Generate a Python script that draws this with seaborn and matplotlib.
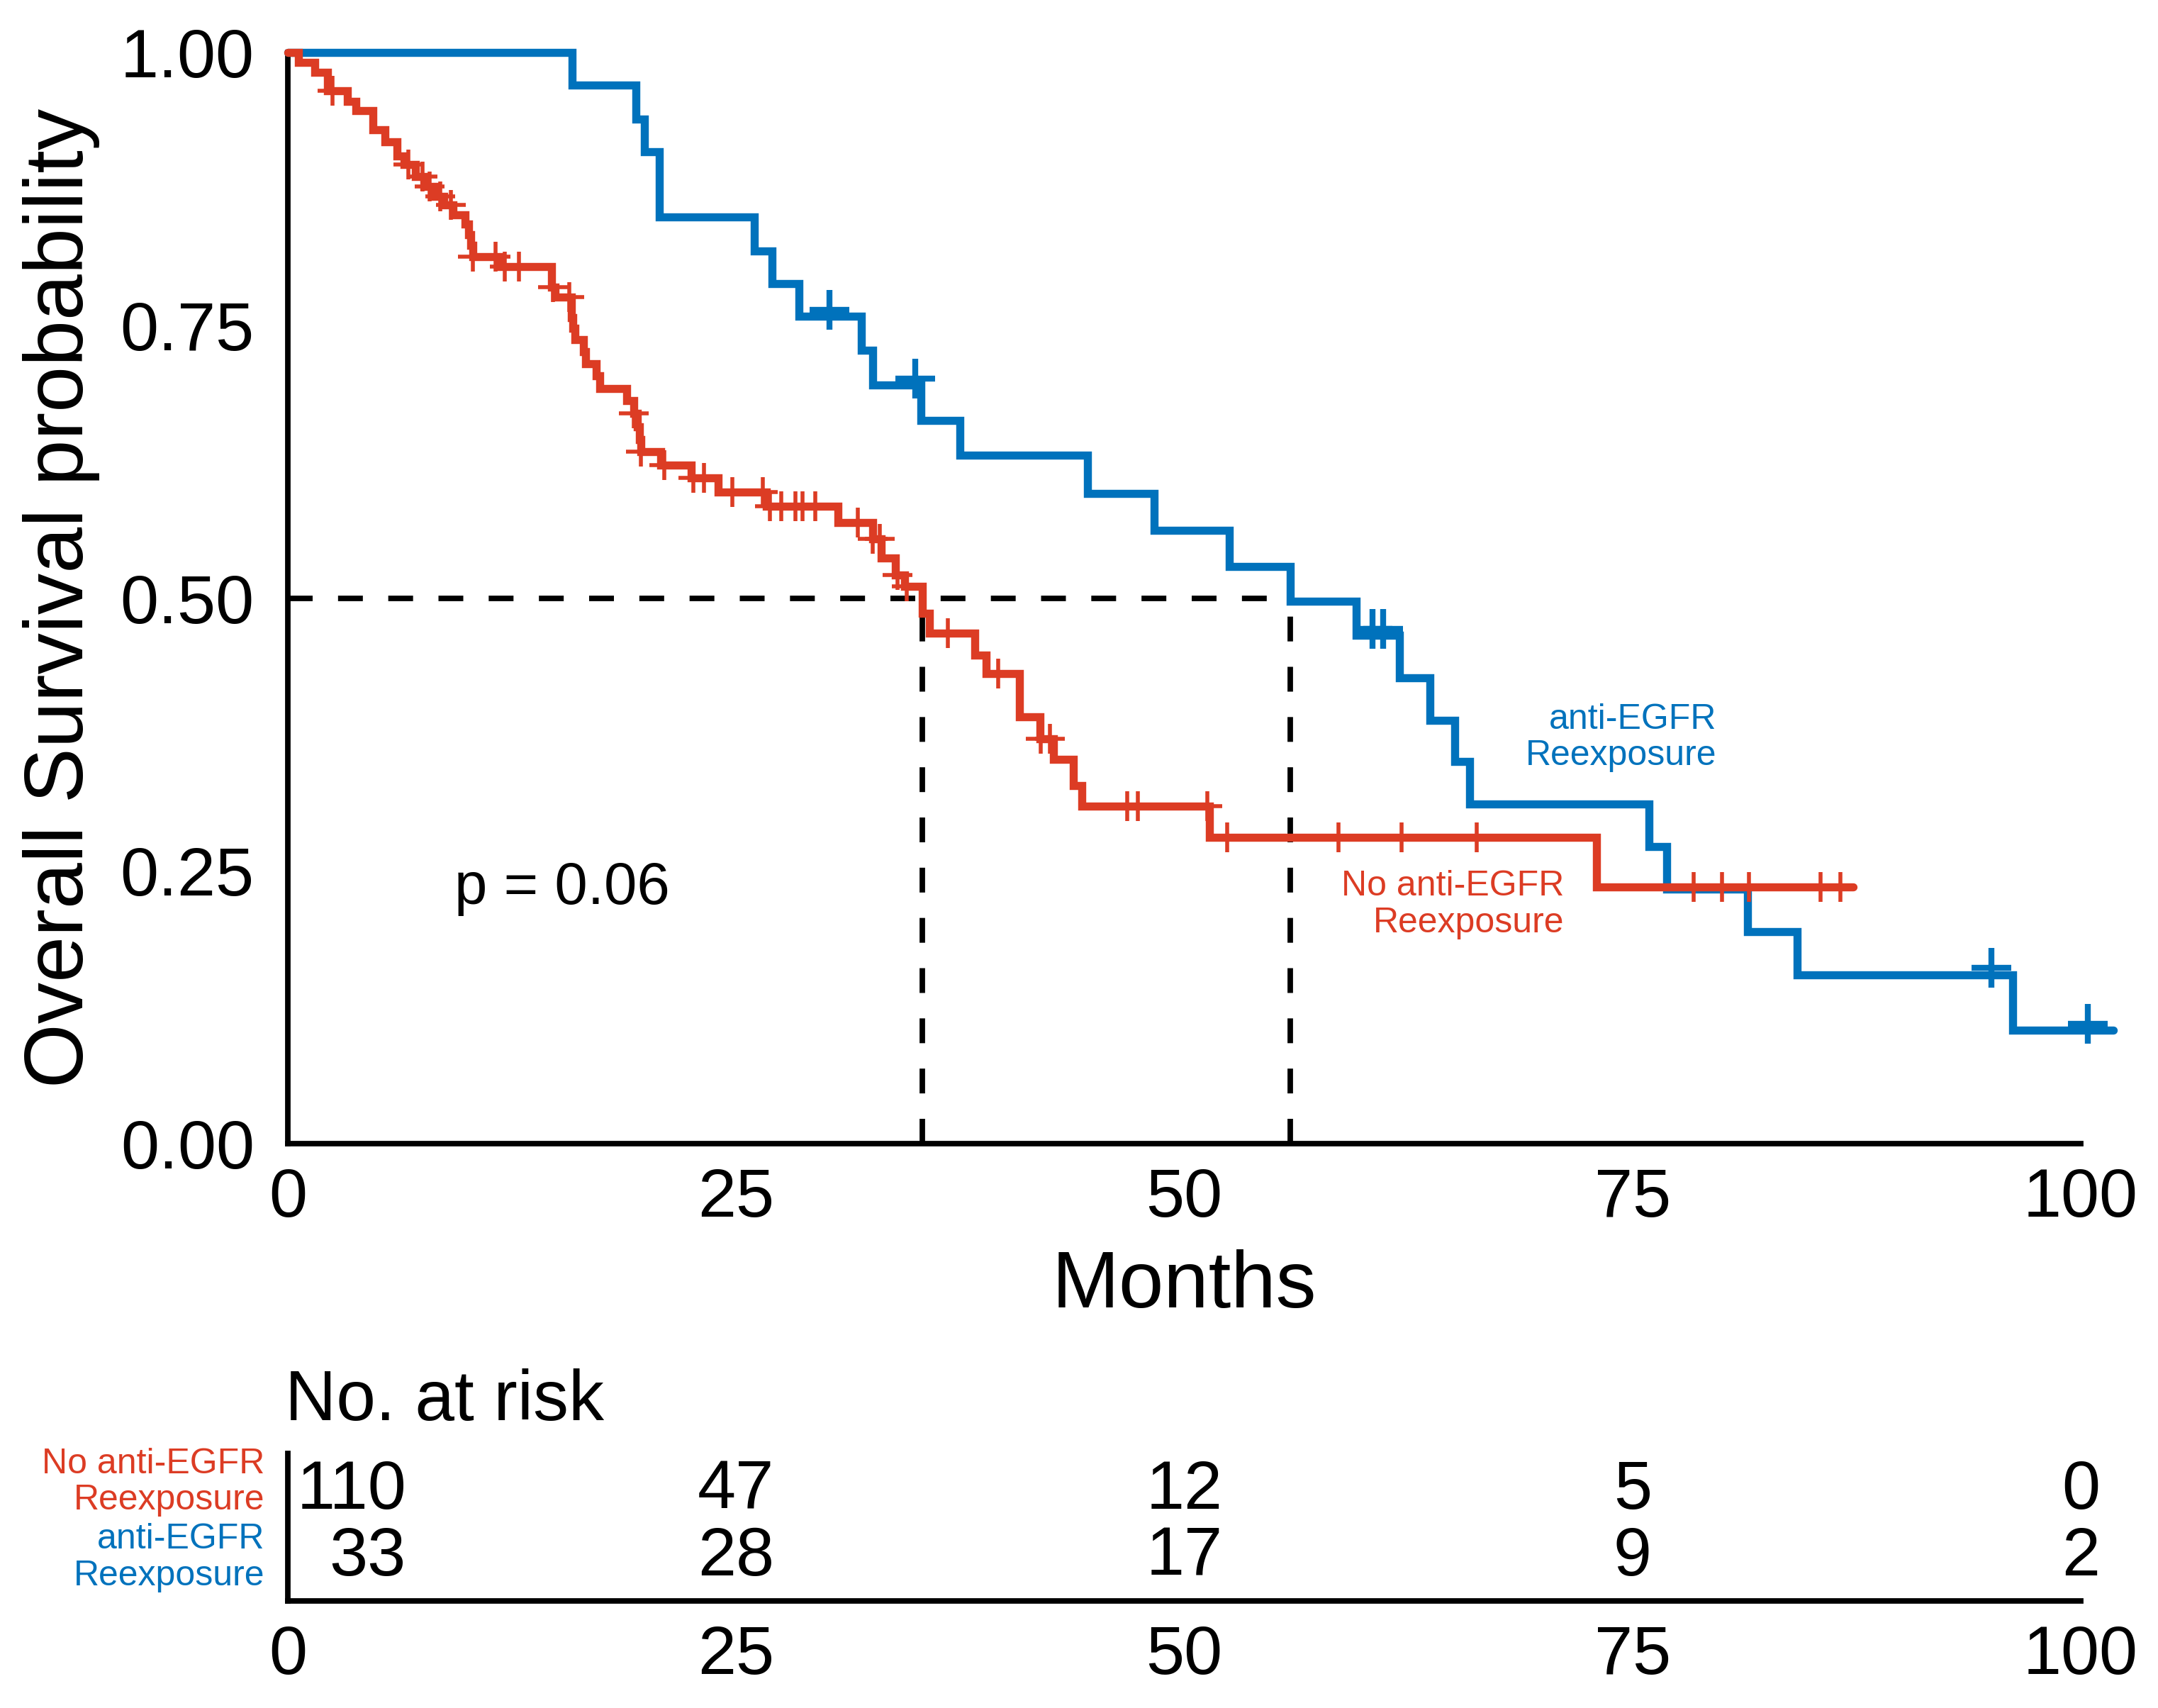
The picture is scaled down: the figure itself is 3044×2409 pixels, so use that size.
import numpy as np
import pandas as pd
import matplotlib
matplotlib.use("Agg")
import matplotlib.pyplot as plt
import matplotlib.transforms as mtransforms
import seaborn as sns

# ---------------- data ----------------
group_names = ["No anti-EGFR\nReexposure", "anti-EGFR\nReexposure"]

# No anti-EGFR Reexposure (red): step times (months) and survival after each step
red_times = [0.6, 1.5, 2.2, 3.3, 3.8, 4.75, 5.4, 6.1, 6.5, 7.1, 7.6, 8.2, 8.7, 9.2,
             9.9, 10.1, 10.2, 10.3, 11.8, 14.7, 14.9, 15.8, 15.9, 16.0, 16.5, 16.6,
             17.2, 17.4, 18.9, 19.3, 19.5, 19.6, 19.7, 20.8, 22.5, 24.0, 26.7, 30.7,
             32.6, 33.1, 33.9, 34.4, 35.4, 35.8, 38.3, 38.95, 40.8, 41.95, 42.7,
             43.8, 44.3, 51.4, 73.0]
red_surv = [0.991, 0.982, 0.965, 0.955, 0.947, 0.929, 0.918, 0.905, 0.897, 0.886,
            0.877, 0.868, 0.860, 0.851, 0.843, 0.833, 0.823, 0.813, 0.804, 0.785,
            0.776, 0.757, 0.747, 0.737, 0.726, 0.715, 0.704, 0.692, 0.681, 0.669,
            0.657, 0.645, 0.634, 0.622, 0.610, 0.597, 0.584, 0.569, 0.554, 0.537,
            0.521, 0.511, 0.486, 0.468, 0.448, 0.431, 0.391, 0.371, 0.352, 0.328,
            0.309, 0.281, 0.235]
red_last_followup = 87.3
red_censor = [2.5, 6.7, 7.5, 7.9, 8.5, 9.1, 10.3, 11.6, 12.1, 12.9, 14.8, 15.7,
              19.3, 19.7, 21.0, 22.6, 23.2, 24.8, 26.5, 26.9, 27.5, 28.3, 28.7,
              29.4, 31.8, 32.6, 33.0, 34.0, 34.5, 36.8, 39.6, 42.0, 42.5, 46.8,
              47.4, 51.3, 52.4, 58.6, 62.1, 66.3, 78.4, 80.0, 81.5, 85.5, 86.6]

# anti-EGFR Reexposure (blue)
blue_times = [15.85, 19.4, 19.9, 20.7, 26.0, 27.0, 28.5, 32.0, 32.6, 35.3, 37.5,
              44.6, 48.3, 52.5, 55.9, 59.6, 62.0, 63.7, 65.1, 65.9, 75.9, 76.9,
              81.4, 84.2, 96.2]
blue_surv = [0.970, 0.939, 0.909, 0.849, 0.818, 0.788, 0.758, 0.727, 0.695, 0.663,
             0.631, 0.596, 0.562, 0.529, 0.497, 0.466, 0.427, 0.388, 0.350, 0.311,
             0.272, 0.233, 0.194, 0.155, 0.104]
blue_last_followup = 101.8
blue_censor = [30.2, 35.0, 60.5, 61.1, 95.0, 100.4]

# number at risk table
risk_times = [0, 25, 50, 75, 100]
red_risk = [110, 47, 12, 5, 0]
blue_risk = [33, 28, 17, 9, 2]

x_ticks = [0, 25, 50, 75, 100]
y_ticks = [0.0, 0.25, 0.50, 0.75, 1.00]
y_tick_labels = ["0.00", "0.25", "0.50", "0.75", "1.00"]
p_text = "p = 0.06"

# ---------------- style ----------------
sns.set_theme(style="white")
plt.rcParams["font.family"] = ["Liberation Sans", "DejaVu Sans"]

BLUE = "#0072BC"
RED = "#DC3C24"
SPINE_W = 2.8
CURVE_W = 4.1

fig = plt.figure(figsize=(15.22, 12.045), dpi=200)
ax = fig.add_axes([0.1334, 0.3304, 0.8308, 0.6389])


def step_frame(times, surv, end):
    t = [0.0] + list(times) + [end]
    s = [1.0] + list(surv) + [surv[-1]]
    return pd.DataFrame({"Months": t, "Survival": s})


def surv_at(times, surv, x):
    idx = np.searchsorted(np.asarray(times), x, side="right") - 1
    return 1.0 if idx < 0 else surv[idx]


def median_time(times, surv):
    for t, s in zip(times, surv):
        if s <= 0.5:
            return t
    return None


blue_df = step_frame(blue_times, blue_surv, blue_last_followup)
red_df = step_frame(red_times, red_surv, red_last_followup)

sns.lineplot(data=blue_df, x="Months", y="Survival", drawstyle="steps-post",
             estimator=None, sort=False, color=BLUE, linewidth=CURVE_W, ax=ax,
             clip_on=False, zorder=3, solid_joinstyle="miter")
sns.lineplot(data=red_df, x="Months", y="Survival", drawstyle="steps-post",
             estimator=None, sort=False, color=RED, linewidth=CURVE_W, ax=ax,
             clip_on=False, zorder=4, solid_joinstyle="miter")

blue_cy = [surv_at(blue_times, blue_surv, c) + 0.006 for c in blue_censor]
red_cy = [surv_at(red_times, red_surv, c) for c in red_censor]
ax.plot(blue_censor, blue_cy, linestyle="none", marker="+", markersize=20,
        markeredgewidth=3.0, color=BLUE, clip_on=False, zorder=3)
ax.plot(red_censor, red_cy, linestyle="none", marker="+", markersize=15,
        markeredgewidth=2.0, color=RED, clip_on=False, zorder=4)

# median lines
med_red = median_time(red_times, red_surv)
med_blue = median_time(blue_times, blue_surv)
dash_lw = 2.8
dash = (0, (12.6 / dash_lw, 12.9 / dash_lw))
ax.plot([0, max(med_red, med_blue)], [0.5, 0.5], color="black", lw=dash_lw,
        linestyle=dash, zorder=2)
for m in (med_red, med_blue):
    ax.plot([m, m], [0, 0.5], color="black", lw=dash_lw, linestyle=dash, zorder=2)

ax.set_xlim(0, 100)
ax.set_ylim(0, 1)
ax.set_xticks(x_ticks)
ax.set_xticklabels([str(v) for v in x_ticks])
ax.set_yticks(y_ticks)
ax.set_yticklabels(y_tick_labels)
for side in ("top", "right"):
    ax.spines[side].set_visible(False)
for side in ("left", "bottom"):
    ax.spines[side].set_linewidth(SPINE_W)
    ax.spines[side].set_color("black")
ax.tick_params(axis="both", which="major", labelsize=35, length=9, width=SPINE_W,
               color="black", labelcolor="black")
ax.tick_params(axis="x", pad=3)
ax.tick_params(axis="y", pad=8)
ax.set_xlabel("Months", fontsize=41, color="black")
ax.set_ylabel("Overall Survival probability", fontsize=42, color="black")
ax.xaxis.set_label_coords(0.5, -0.097)
ax.yaxis.set_label_coords(-0.105, 0.5)

ax.text(9.3, 0.234, p_text, fontsize=30, ha="left", va="center", color="black")
ax.text(79.7, 0.372, group_names[1], color=BLUE, fontsize=18, ha="right",
        va="center", multialignment="right", linespacing=1.15)
ax.text(71.2, 0.219, group_names[0], color=RED, fontsize=18, ha="right",
        va="center", multialignment="right", linespacing=1.15)

# ---------------- risk table ----------------
tab = fig.add_axes([0.1334, 0.0627, 0.8308, 0.0863])
tab.set_xlim(0, 100)
tab.set_ylim(0.35, 2.56)
for side in ("top", "right"):
    tab.spines[side].set_visible(False)
for side in ("left", "bottom"):
    tab.spines[side].set_linewidth(SPINE_W)
    tab.spines[side].set_color("black")
tab.set_xticks(x_ticks)
tab.set_xticklabels([str(v) for v in x_ticks])
tab.set_yticks([2, 1])
tab.set_yticklabels(["", ""])
tab.tick_params(axis="both", labelsize=35, length=9, width=1.8, color="#333333",
                labelcolor="black")
tab.tick_params(axis="x", pad=3)

rows = [(2, red_risk, RED, group_names[0], 2.13), (1, blue_risk, BLUE, group_names[1], 1.0)]
blend = mtransforms.blended_transform_factory(tab.transAxes, tab.transData)
for ypos, counts, col, name, lab_y in rows:
    for t, n in zip(risk_times, counts):
        if t == risk_times[0]:
            tab.text(t + 6.6, ypos, str(n), fontsize=35, ha="right", va="center",
                     color="black")
        else:
            tab.text(t, ypos, str(n), fontsize=35, ha="center", va="center",
                     color="black")
    tab.text(-0.013, lab_y, name, transform=blend, color=col, fontsize=18,
             ha="right", va="center", multialignment="right", linespacing=1.15)

fig.text(402 / 3044, 1 - 2003 / 2409, "No. at risk", fontsize=36, ha="left",
         va="baseline", color="black")

fig.savefig("out.png", dpi=200, facecolor="white")
